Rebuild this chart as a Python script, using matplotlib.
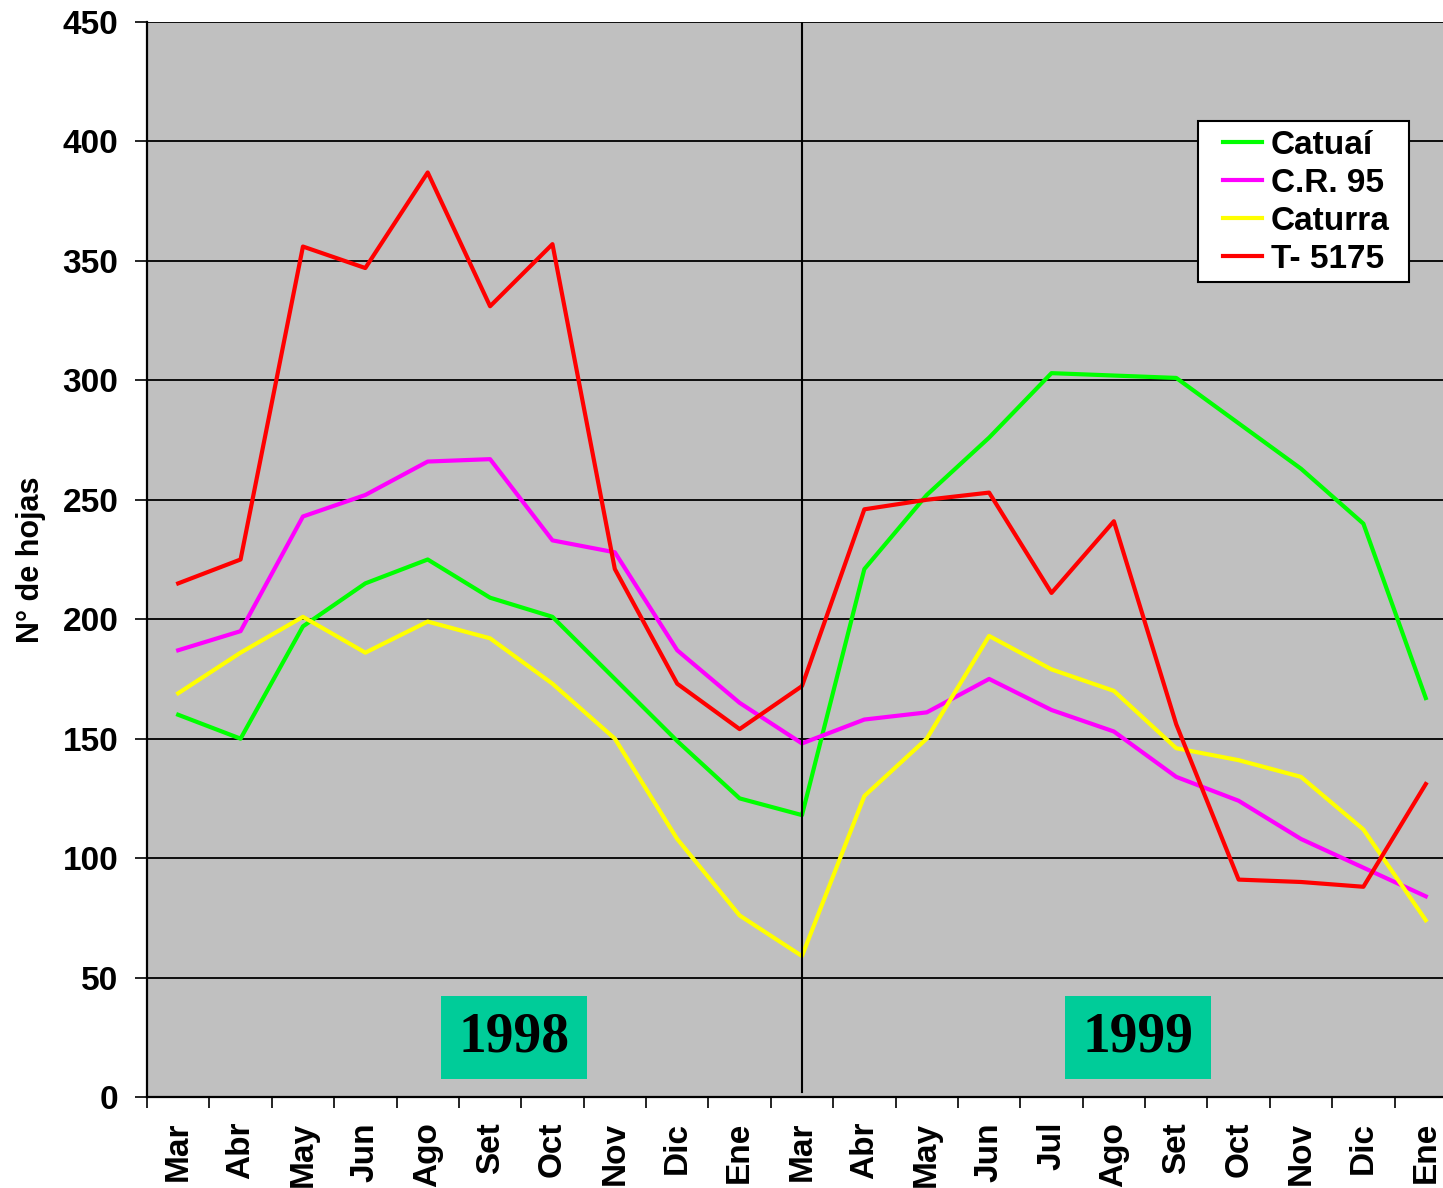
import matplotlib.pyplot as plt
from matplotlib.patches import Rectangle
import numpy as np

# --- data ---
meses = ["Mar", "Abr", "May", "Jun", "Ago", "Set", "Oct", "Nov", "Dic", "Ene",
         "Mar", "Abr", "May", "Jun", "Jul", "Ago", "Set", "Oct", "Nov", "Dic", "Ene"]

catuai = [160, 150, 197, 215, 225, 209, 201, 175, 149, 125, 118,
          221, 252, 276, 303, 302, 301, 282, 263, 240, 167]
cr95 = [187, 195, 243, 252, 266, 267, 233, 228, 187, 165, 148,
        158, 161, 175, 162, 153, 134, 124, 108, 96, 84]
caturra = [169, 186, 201, 186, 199, 192, 173, 150, 108, 76, 59,
           126, 150, 193, 179, 170, 146, 141, 134, 112, 74]
t5175 = [215, 225, 356, 347, 387, 331, 357, 221, 173, 154, 172,
         246, 250, 253, 211, 241, 156, 91, 90, 88, 131]

series = [("Catuaí", catuai, "#00FF00"),
          ("C.R. 95", cr95, "#FF00FF"),
          ("Caturra", caturra, "#FFFF00"),
          ("T- 5175", t5175, "#FF0000")]

anios = ["1998", "1999"]

plt.rcParams['font.family'] = ['Liberation Sans', 'DejaVu Sans']
plt.rcParams['font.weight'] = 'bold'

fig = plt.figure(figsize=(14.43, 11.88), dpi=100)
ax = fig.add_axes([0.10187, 0.0766, 0.9078, 0.9049])
ax.set_facecolor("#C0C0C0")

x = np.arange(len(meses))
for nombre, vals, color in series:
    ax.plot(x, vals, color=color, linewidth=3, label=nombre, zorder=3)

ax.set_xlim(-0.5, len(meses) - 0.5)
ax.set_ylim(0, 450)

# grid
ax.set_yticks(np.arange(0, 451, 50))
ax.grid(axis='y', color='black', linewidth=1.3, zorder=1)
ax.set_axisbelow(True)

# ticks: marks at boundaries, labels at centres
ax.set_xticks(np.arange(-0.5, len(meses), 1.0))
ax.set_xticklabels([])
ax.set_xticks(x, minor=True)
ax.set_xticklabels(meses, minor=True, rotation=90, fontsize=24,
                   fontweight='bold', va='top', ha='center')
ax.tick_params(axis='x', which='major', length=8, width=1.2, direction='out')
ax.tick_params(axis='x', which='minor', length=0, pad=18)
ax.tick_params(axis='y', length=8.6, width=1.2, pad=12, labelsize=24)
for lab in ax.get_yticklabels():
    lab.set_fontweight('bold')

for s in ['top', 'right']:
    ax.spines[s].set_visible(False)
for s in ['left', 'bottom']:
    ax.spines[s].set_linewidth(1.6)
    ax.spines[s].set_color('black')

ax.set_ylabel("N° de hojas", fontsize=22, fontweight='bold')
ax.yaxis.set_label_coords(-0.077, 0.5)

# separator between years
ax.axvline(10, ymin=0.005, ymax=1.0, color='black', linewidth=1.5, zorder=4)

# year boxes
for (x0, x1), anio in zip([(4.213, 6.554), (14.216, 16.557)], anios):
    ax.add_patch(Rectangle((x0, 7.5), x1 - x0, 34.8, facecolor="#00CC99",
                           edgecolor='none', zorder=2))
    ax.text((x0 + x1) / 2, 24.9, anio, ha='center', va='center',
            fontsize=40, fontweight='bold', family='Liberation Serif', zorder=5)

# legend: own frame so the padding can match
ax.add_patch(Rectangle((0.8023, 0.7581), 0.1611, 0.1498, transform=ax.transAxes,
                       facecolor='white', edgecolor='black', linewidth=1.5,
                       zorder=5))
leg = ax.legend(loc='upper left', bbox_to_anchor=(0.8214, 0.8995),
                fontsize=24, frameon=False, labelspacing=0.21,
                handlelength=1.17, handletextpad=0.27, borderpad=0,
                borderaxespad=0)
leg.set_zorder(6)
for t in leg.get_texts():
    t.set_fontweight('bold')

fig.savefig("out.png", dpi=100)
